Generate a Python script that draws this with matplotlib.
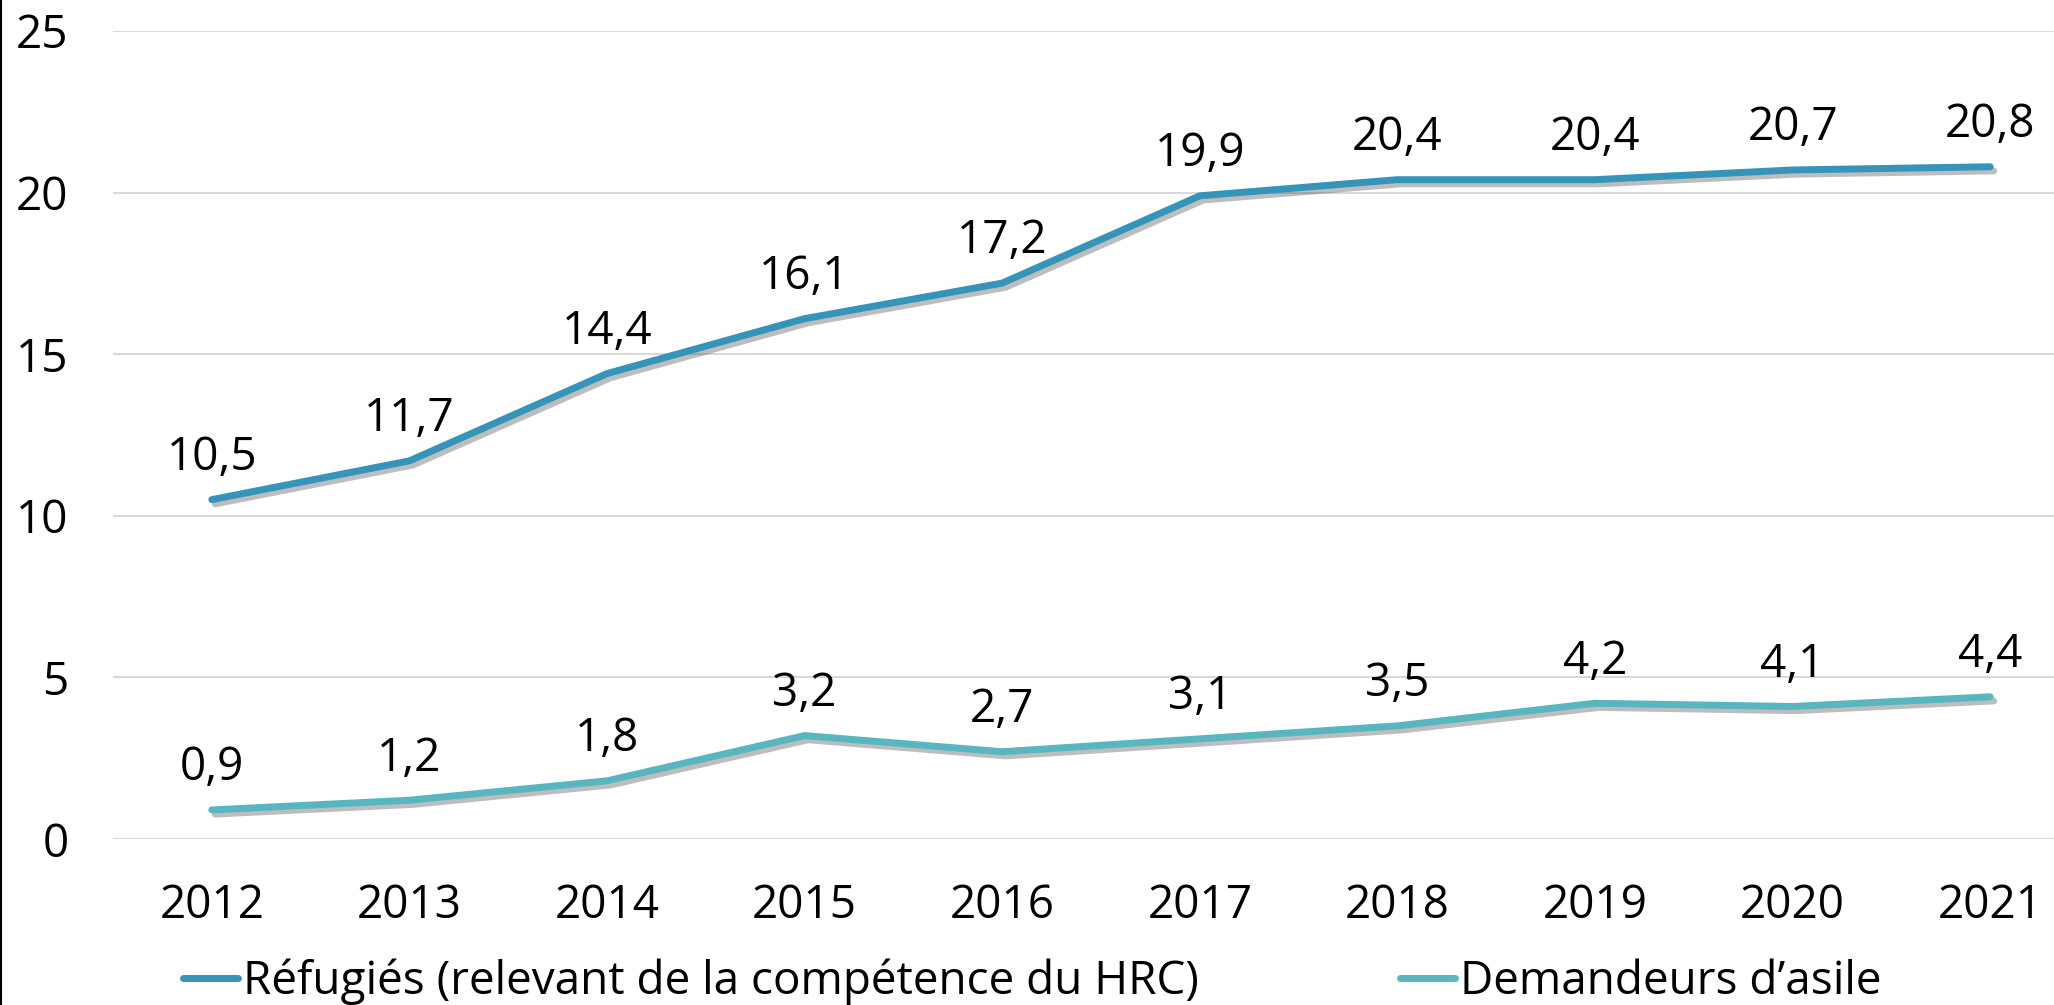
import matplotlib
matplotlib.use("Agg")
import matplotlib.pyplot as plt
import matplotlib.patheffects as pe
from matplotlib.lines import Line2D

plt.rcParams["font.family"] = ["Open Sans", "DejaVu Sans"]

years = ["2012", "2013", "2014", "2015", "2016", "2017", "2018", "2019", "2020", "2021"]
refugies = [10.5, 11.7, 14.4, 16.1, 17.2, 19.9, 20.4, 20.4, 20.7, 20.8]
demandeurs = [0.9, 1.2, 1.8, 3.2, 2.7, 3.1, 3.5, 4.2, 4.1, 4.4]
series_names = ["Réfugiés (relevant de la compétence du HRC)", "Demandeurs d\u2019asile"]
colors = ["#3494BA", "#58B6C0"]

W, H = 2054, 1005
fig = plt.figure(figsize=(W / 100, H / 100), dpi=100)
# the category axis runs past the right edge of the picture (cropped original)
left, right = 113 / W, 2089 / W
bottom, top = (H - 839) / H, (H - 31) / H
ax = fig.add_axes([left, bottom, right - left, top - bottom])

x = list(range(len(years)))
shadow = [pe.SimpleLineShadow(offset=(2.5, -3), shadow_color="#444444", alpha=0.35),
          pe.Normal()]
handles = []
for vals, name, col in zip([refugies, demandeurs], series_names, colors):
    ax.plot(x, vals, color=col, lw=5, solid_capstyle="round", solid_joinstyle="round",
            path_effects=shadow, zorder=3)
    handles.append(Line2D([], [], color=col, lw=5, solid_capstyle="round", label=name))
    for xi, v in zip(x, vals):
        ax.annotate(f"{v:.1f}".replace(".", ","), (xi, v), xytext=(0, 30),
                    textcoords="offset points", ha="center", va="center",
                    fontsize=33, color="black")

ax.set_xlim(-0.5, len(years) - 0.5)
ax.set_ylim(0, 25)
ax.set_yticks([0, 5, 10, 15, 20, 25])
ax.set_xticks(x)
ax.set_xticklabels(years)
ax.tick_params(axis="both", length=0, labelsize=33, colors="black")
ax.tick_params(axis="y", pad=32)
ax.tick_params(axis="x", pad=32)
ax.grid(axis="y", color="#D9D9D9", lw=1.5, zorder=0)
ax.set_axisbelow(True)
for s in ax.spines.values():
    s.set_visible(False)

fig.legend(handles=handles, loc="center left", bbox_to_anchor=(183 / W, 1 - 982 / H),
           ncol=2, frameon=False, fontsize=33, handlelength=1.2, handletextpad=0.1,
           columnspacing=4.4, borderpad=0, borderaxespad=0)

# thin black border on the left edge
fig.add_artist(Line2D([1 / W, 1 / W], [0, 1], color="black", lw=1.5, transform=fig.transFigure))

fig.savefig("out.png", dpi=100)
